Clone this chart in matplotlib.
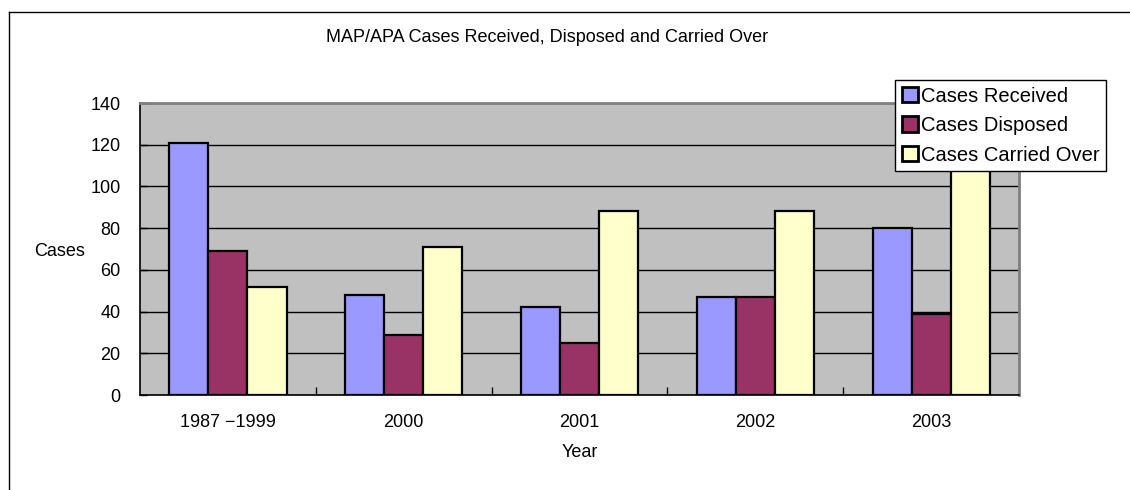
import matplotlib
matplotlib.use("Agg")
import matplotlib.pyplot as plt
import numpy as np
from matplotlib.lines import Line2D

categories = ["1987 \u22121999", "2000", "2001", "2002", "2003"]
received = [121, 48, 42, 47, 80]
disposed = [69, 29, 25, 47, 39]
carried = [52, 71, 88, 88, 129]
series_names = ["Cases Received", "Cases Disposed", "Cases Carried Over"]
colors = ["#9999FF", "#993366", "#FFFFCC"]
yticks = [0, 20, 40, 60, 80, 100, 120, 140]

plt.rcParams['font.family'] = ['Liberation Sans', 'DejaVu Sans']

W, H = 1130, 490
fig = plt.figure(figsize=(W / 100, H / 100), dpi=100)
ax = fig.add_axes([140 / W, 1 - 395 / H, (1019 - 140) / W, (395 - 103) / H])
ax.set_facecolor("#C0C0C0")

x = np.arange(len(categories))
bw = 1 / 4.5
handles = []
for i, (vals, name, c) in enumerate(zip([received, disposed, carried], series_names, colors)):
    b = ax.bar(x + (i - 1) * bw, vals, width=bw, color=c, edgecolor="black",
               linewidth=1.6, label=name, zorder=3)
    handles.append(b)

ax.set_xlim(-0.5, len(categories) - 0.5)
ax.set_ylim(0, 140)
ax.set_yticks(yticks)
ax.set_xticks(x)
ax.set_xticklabels(categories, fontsize=13)
ax.tick_params(axis='x', which='major', length=0, pad=14)
ax.set_xticks(np.arange(0.5, len(categories) - 0.5, 1), minor=True)
ax.tick_params(axis='x', which='minor', direction='in', length=6, width=1, color='black')
ax.tick_params(axis='y', direction='in', length=5, width=1, labelsize=13, pad=14)
ax.yaxis.grid(True, color='black', linewidth=1, zorder=1)
ax.set_axisbelow(True)

for s in ['left', 'bottom']:
    ax.spines[s].set_color('black')
    ax.spines[s].set_linewidth(1.2)
for s in ['top', 'right']:
    ax.spines[s].set_color('#808080')
    ax.spines[s].set_linewidth(2)

fig.text(547.5 / W, 1 - 38 / H, "MAP/APA Cases Received, Disposed and Carried Over",
         ha='center', va='center', fontsize=13)
fig.text(60 / W, 1 - 251 / H, "Cases", ha='center', va='center', fontsize=13)
fig.text(580 / W, 1 - 452 / H, "Year", ha='center', va='center', fontsize=13)

leg = fig.legend(handles=handles, labels=series_names, loc='upper left',
                 bbox_to_anchor=(895 / W, 1 - 80 / H), bbox_transform=fig.transFigure,
                 fontsize=14.5, frameon=True, fancybox=False, framealpha=1,
                 edgecolor='black', handlelength=0.8, handleheight=0.8,
                 handletextpad=0.15, borderpad=0.33, labelspacing=0.52, borderaxespad=0)
leg.get_frame().set_linewidth(1)
leg.set_zorder(10)
for p in leg.get_patches():
    p.set_linewidth(2)

# chart area border
fig.add_artist(Line2D([8.5 / W, 8.5 / W], [0, 1 - 12 / H], color='black', lw=1,
                      transform=fig.transFigure))
fig.add_artist(Line2D([8.5 / W, 1], [1 - 12 / H, 1 - 12 / H], color='black', lw=1,
                      transform=fig.transFigure))

fig.savefig("out.png", dpi=100)
